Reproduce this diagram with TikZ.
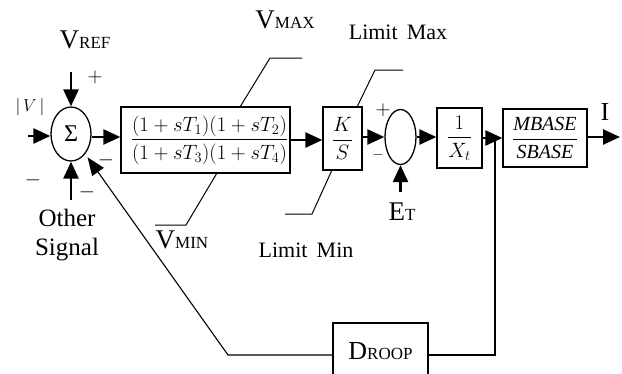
\documentclass[tikz,border=0pt]{standalone}
\usepackage{amsmath}
\usepackage{fontspec}
\setmainfont{Liberation Serif}
\usetikzlibrary{arrows.meta,shapes.geometric,calc}
\newcommand{\fs}[1]{\fontsize{#1}{#1}\selectfont}
\begin{document}
\begin{tikzpicture}[x=1pt,y=-1pt,
  blk/.style={draw,line width=1.3pt,rectangle,inner sep=0pt},
  sumj/.style={draw,line width=1.3pt,ellipse,inner sep=0pt},
  sig/.style={line width=2.6pt,-{Triangle[length=17pt,width=15pt]}},
  lim/.style={line width=1pt},
  fb/.style={line width=1.1pt},
  lbl/.style={inner sep=0pt,font=\fs{22}},
  sgn/.style={inner sep=0pt,font=\fs{20}}]
\useasboundingbox (0,0) rectangle (622,373);
\clip (0,0) rectangle (622,373);
% blocks
\node[sumj,minimum width=40pt,minimum height=54pt] (s1) at (71,134) {\fs{24}Σ};
\node[blk,minimum width=169pt,minimum height=66pt] (lead) at (205.5,140)
  {\hspace*{8pt}\fs{20}$\dfrac{(1+sT_1)(1+sT_2)}{(1+sT_3)(1+sT_4)}$};
\node[blk,minimum width=39pt,minimum height=63pt] (ks) at (342.5,138.5) {\fs{22}$\dfrac{K}{S}$};
\node[sumj,minimum width=31pt,minimum height=55pt] (s2) at (400.5,137) {};
\node[blk,minimum width=45pt,minimum height=60pt] (xt) at (459.5,138) {\fs{22}$\dfrac{1}{X_t}$};
\node[blk,minimum width=84pt,minimum height=58pt] (mb) at (545,138)
  {\fs{20}$\dfrac{\textit{MBASE}}{\textit{SBASE}}$};
\node[blk,minimum width=95pt,minimum height=64pt] (dr) at (380.5,355)
  {\raisebox{8pt}{\fs{26}D\fs{17}ROOP}};
% free ends
\coordinate (vin) at (28,136);
\coordinate (vref) at (71,72);
\coordinate (oth) at (71,200);
\coordinate (et) at (400.5,192);
\coordinate (out) at (620,137);
\coordinate (tap) at (495,138);
\coordinate (fbb) at (228,355);
% signal arrows
\draw[sig] (vin) -- (vin -| s1.west);
\draw[sig] (vref) -- (s1.north);
\draw[sig] (oth) -- (s1.south);
\draw[sig] (s1.east |- 0,137) -- (lead.west |- 0,137);
\draw[sig] (lead.east) -- (lead.east -| ks.west);
\draw[sig] (ks.east |- 0,137) -- (s2.west);
\draw[sig] (s2.east) -- (s2.east -| xt.west);
\draw[sig] (xt.east) -- (xt.east -| mb.west);
\draw[sig] (mb.east |- out) -- (out);
\draw[sig] (et) -- (s2.south);
% feedback
\draw[fb] (tap) |- (dr.east);
\draw[fb,-{Triangle[length=18pt,width=14pt]},shorten >=4pt] (dr.west) -- (fbb) -- (s1);
% limit lines
\coordinate (vmax1) at (240,107); \coordinate (vmax2) at (270,58); \coordinate (vmax3) at (302,58);
\draw[lim] (vmax1) -- (vmax2) -- (vmax3);
\coordinate (vmin1) at (217,173); \coordinate (vmin2) at (186,225); \coordinate (vmin3) at (155,225);
\draw[lim] (vmin1) -- (vmin2) -- (vmin3);
\coordinate (lmax1) at (357,107); \coordinate (lmax2) at (375,70); \coordinate (lmax3) at (403,70);
\draw[lim] (lmax1) -- (lmax2) -- (lmax3);
\coordinate (lmin1) at (332,170); \coordinate (lmin2) at (312,214); \coordinate (lmin3) at (285,214);
\draw[lim] (lmin1) -- (lmin2) -- (lmin3);
% labels
\node[inner sep=0pt] (tvref) at (85,40) {\fs{27}V\fs{17}REF};
\node[inner sep=0pt] (tvmax) at (285,20) {\fs{27}V\fs{17}MAX};
\node[inner sep=0pt] (tvmin) at (182,240) {\fs{27}V\fs{17}MIN};
\node[inner sep=0pt] (tet) at (402,212) {\fs{27}E\fs{17}T};
\node[inner sep=0pt] (ti) at (605,112) {\fs{26}I};
\node[lbl] (tlmax) at (398,32) {Limit\, Max};
\node[lbl] (tlmin) at (306,250) {Limit\, Min};
\node[lbl,align=center,font={\fontsize{25}{29}\selectfont}] (toth) at (67,235) {Other\\Signal};
\node[sgn,font=\fs{18}] (tv) at (30,107) {$|\,V\,|$};
\node[sgn] (p1) at (95,77) {$+$};
\node[sgn] (m1) at (33,180) {$-$};
\node[sgn] (m2) at (87,192) {$-$};
\node[sgn] (m3) at (106,160) {$-$};
\node[sgn] (p2) at (383,110) {$+$};
\node[sgn,font=\fs{15}] (m4) at (378,155) {$-$};
\end{tikzpicture}
\end{document}
